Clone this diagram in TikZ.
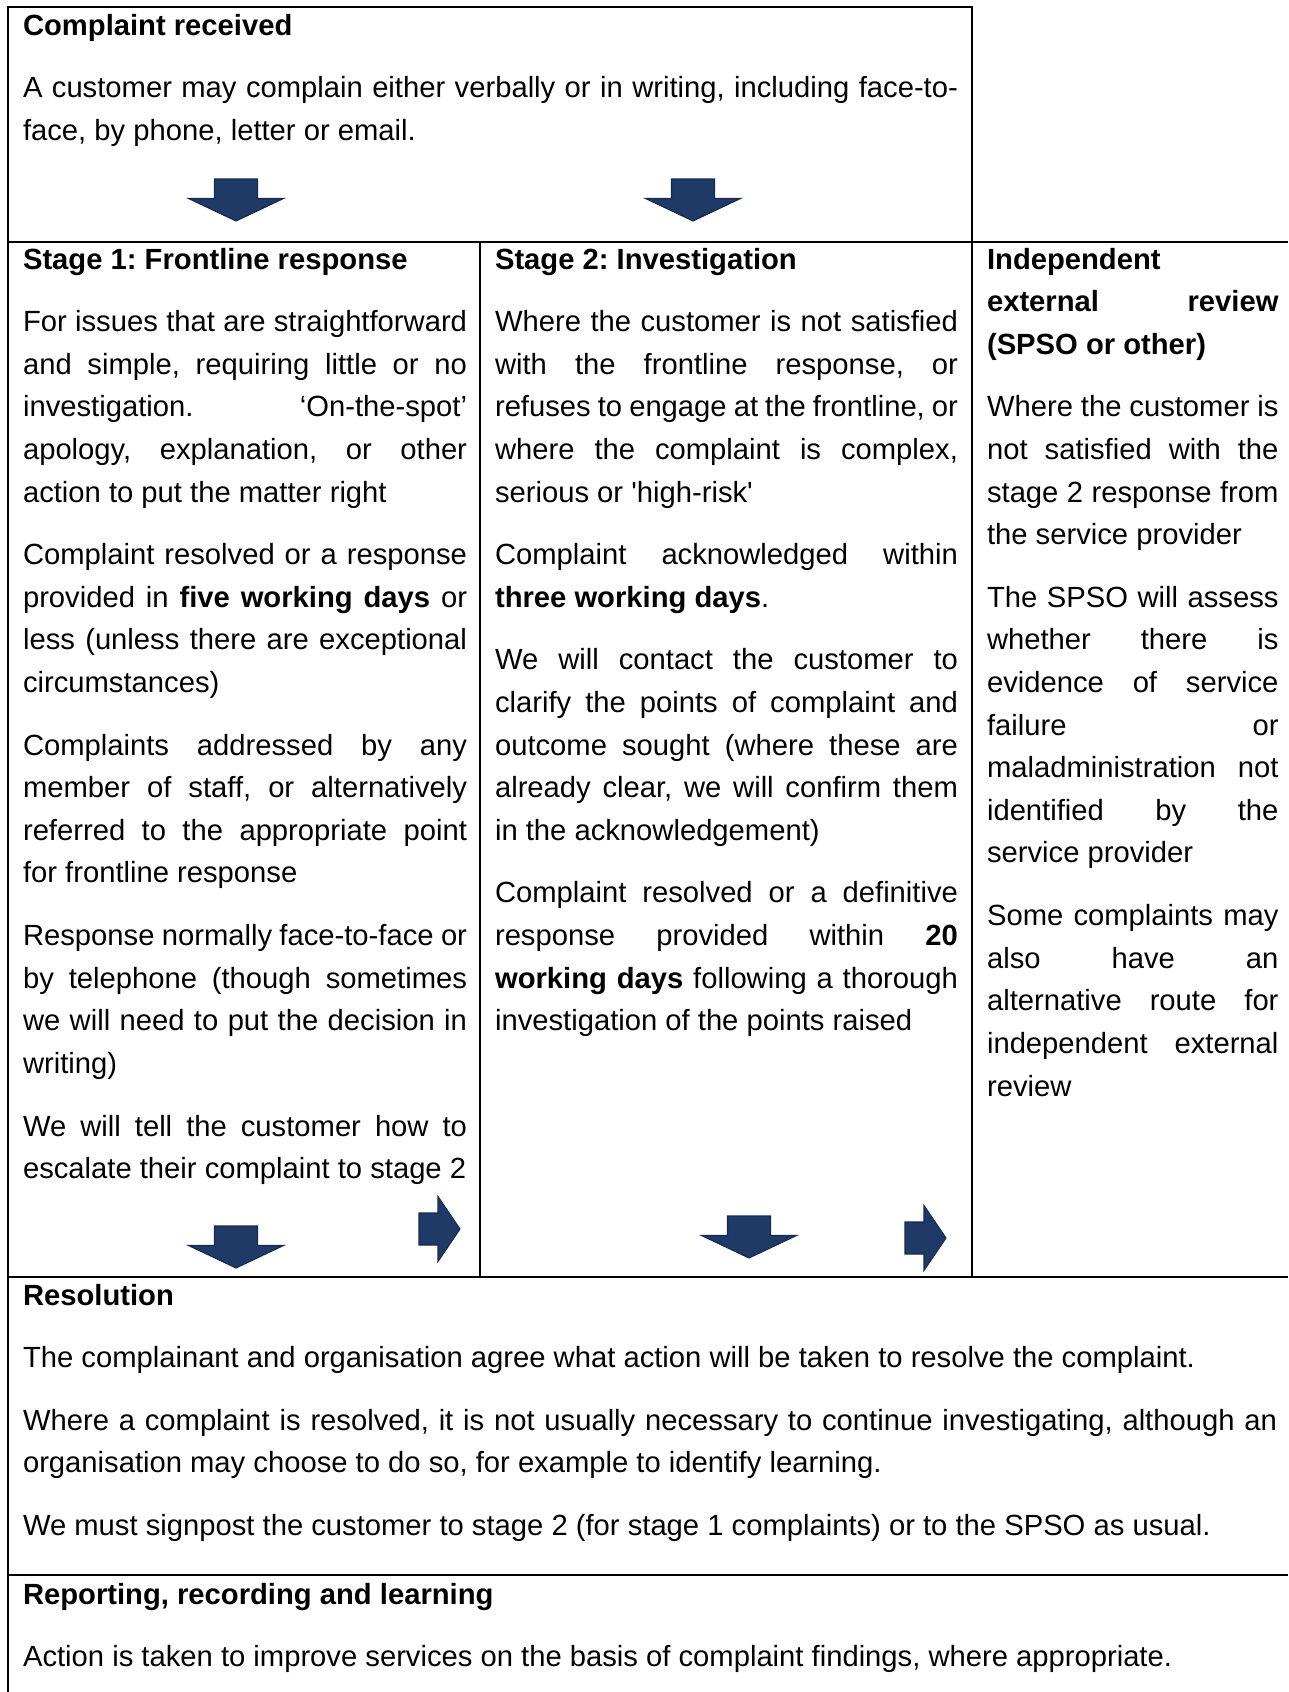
\documentclass[tikz,border=0pt]{standalone}
\usepackage{fontspec}
\setmainfont[Ligatures={NoCommon}]{Liberation Sans}
\usepackage{xcolor}
\usetikzlibrary{positioning}

\definecolor{navyfill}{RGB}{31,58,102}
\definecolor{navyedge}{RGB}{21,42,78}

\newcommand{\cellset}{\fontsize{10.95pt}{15.98pt}\selectfont\parskip=7.5pt\parindent=0pt\frenchspacing
  \tolerance=10000\hbadness=10000\hyphenpenalty=10000\exhyphenpenalty=10000}

\tikzset{
  cell/.style={anchor=base west, inner sep=0pt, text width=#1, align=justify, execute at begin node=\cellset},
  grid/.style={line width=0.75pt, black, line join=miter},
  blk/.style={fill=navyfill, draw=navyedge, line width=0.4pt, line join=miter},
  downblk/.pic={\filldraw[blk] (-21.5,0) -- (21.5,0) -- (21.5,19.5) -- (47.5,19.5) -- (0,42) -- (-47.5,19.5) -- (-21.5,19.5) -- cycle;},
  rightblk/.pic={\filldraw[blk] (0,-16) -- (19,-16) -- (19,-32.5) -- (41,0) -- (19,32.5) -- (19,16) -- (0,16) -- cycle;}
}

\begin{document}
\begin{tikzpicture}[x=0.375pt, y=-0.375pt]
    \useasboundingbox (0,0) rectangle (1288,1692);

    % Table lines
    \draw[grid] (8,1692) -- (8,7) -- (972,7) -- (972,1277);
    \draw[grid] (8,242) -- (1288,242);
    \draw[grid] (480,242) -- (480,1277);
    \draw[grid] (8,1277) -- (1288,1277);
    \draw[grid] (8,1575) -- (1288,1575);

    % Complaint received
    \node[cell=350.6pt] (recv) at (22.5,35) {\textbf{Complaint received}\par
      A customer may complain either verbally or in writing, including face-to-\linebreak face, by phone, letter or email.};
    \pic (recvA) at (236,179) {downblk};
    \pic (recvB) at (693,179) {downblk};

    % Stage 1
    \node[cell=166.5pt] (stageone) at (22.5,269) {\textbf{Stage 1: Frontline response}\par
      For issues that are straightforward\linebreak and simple, requiring little or no\linebreak investigation. ‘On-the-spot’\linebreak apology, explanation, or other\linebreak action to put the matter right\par
      Complaint resolved or a response\linebreak provided in \textbf{five working days} or\linebreak less (unless there are exceptional\linebreak circumstances)\par
      Complaints addressed by any\linebreak member of staff, or alternatively\linebreak referred to the appropriate point\linebreak for frontline response\par
      Response normally face-to-face or\linebreak by telephone (though sometimes\linebreak we will need to put the decision in\linebreak writing)\par
      We will tell the customer how to\linebreak escalate their complaint to stage 2};
    \pic (oneDown) at (236,1226) {downblk};
    \pic (oneRight) at (419,1229) {rightblk};

    % Stage 2
    \node[cell=173.6pt] (stagetwo) at (494.5,269) {\textbf{Stage 2: Investigation}\par
      Where the customer is not satisfied\linebreak with the frontline response, or\linebreak refuses to engage at the frontline, or\linebreak where the complaint is complex,\linebreak serious or \textquotesingle high-risk\textquotesingle\par
      Complaint acknowledged within\linebreak \textbf{three working days}.\par
      We will contact the customer to\linebreak clarify the points of complaint and\linebreak outcome sought (where these are\linebreak already clear, we will confirm them\linebreak in the acknowledgement)\par
      Complaint resolved or a definitive\linebreak response provided within \textbf{20}\linebreak \textbf{working days} following a thorough\linebreak investigation of the points raised};
    \pic (twoDown) at (749,1216) {downblk};
    \pic (twoRight) at (905,1238) {rightblk};

    % Independent external review
    \node[cell=109.3pt] (review) at (986.5,269) {\textbf{Independent\linebreak external review\linebreak (SPSO or other)}\par
      Where the customer is\linebreak not satisfied with the\linebreak stage 2 response from\linebreak the service provider\par
      The SPSO will assess\linebreak whether there is\linebreak evidence of service\linebreak failure or\linebreak maladministration not\linebreak identified by the\linebreak service provider\par
      Some complaints may\linebreak also have an\linebreak alternative route for\linebreak independent external\linebreak review};

    % Resolution
    \node[cell=470.25pt] (resol) at (22.5,1305) {\textbf{Resolution}\par
      The complainant and organisation agree what action will be taken to resolve the complaint.\par
      Where a complaint is resolved, it is not usually necessary to continue investigating, although an\linebreak organisation may choose to do so, for example to identify learning.\par
      We must signpost the customer to stage 2 (for stage 1 complaints) or to the SPSO as usual.};

    % Reporting
    \node[cell=470.25pt] (report) at (22.5,1604) {\textbf{Reporting, recording and learning}\par
      Action is taken to improve services on the basis of complaint findings, where appropriate.};
\end{tikzpicture}
\end{document}
